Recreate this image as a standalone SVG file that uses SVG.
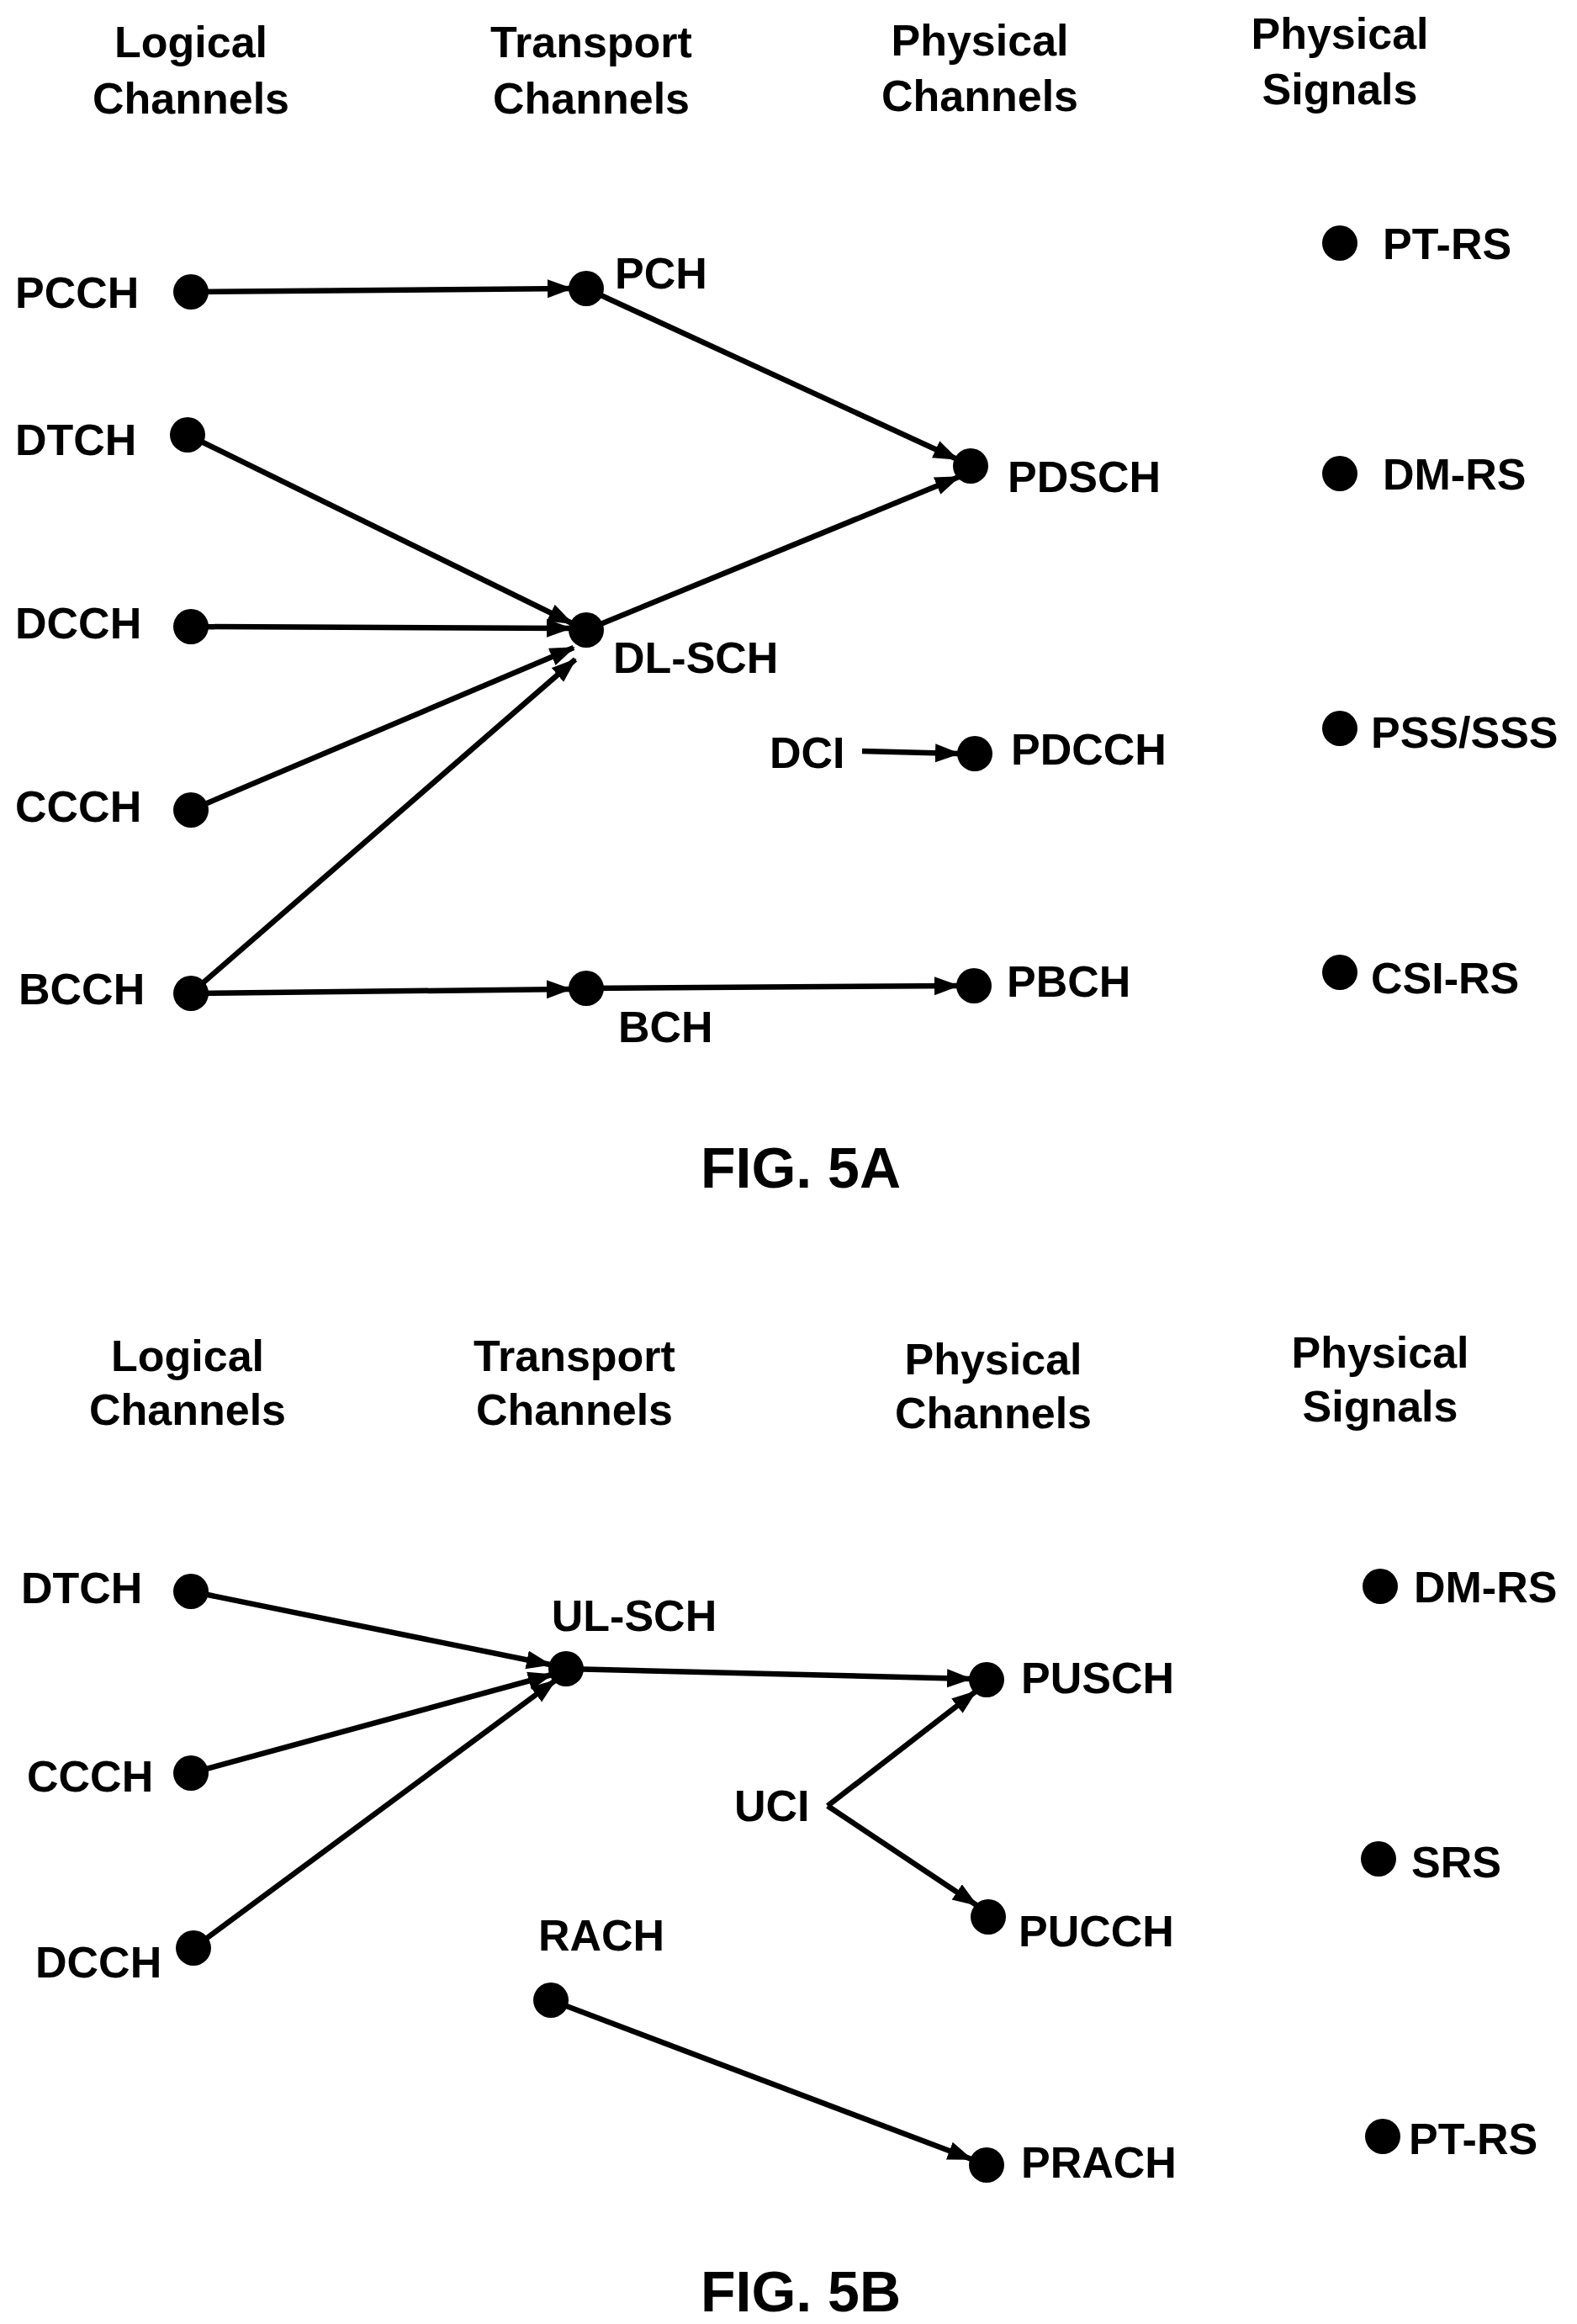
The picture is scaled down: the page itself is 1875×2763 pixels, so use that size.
<svg xmlns="http://www.w3.org/2000/svg" width="1875" height="2763" viewBox="0 0 1875 2763">
<style>
text{font-family:"Liberation Sans",Arial,sans-serif;font-weight:bold;font-size:52px;fill:#000}
.h{text-anchor:middle}
.fig{font-size:68px;text-anchor:middle}
.dot{fill:#000}
.c line{stroke:#000;stroke-width:6.5;marker-end:url(#ah)}
</style>
<defs>
<marker id="ah" markerUnits="userSpaceOnUse" markerWidth="32" markerHeight="24" refX="28" refY="11" orient="auto">
<path d="M0,0 L30,11 L0,22 Z" fill="#000"/>
</marker>
</defs>
<rect width="1875" height="2763" fill="#fff"/>
<g id="headers-5a">
<text class="h" x="227" y="68">Logical</text><text class="h" x="227" y="135">Channels</text>
<text class="h" x="703" y="68">Transport</text><text class="h" x="703" y="135">Channels</text>
<text class="h" x="1165" y="66">Physical</text><text class="h" x="1165" y="132">Channels</text>
<text class="h" x="1593" y="58">Physical</text><text class="h" x="1593" y="124">Signals</text>
</g>
<g class="c" id="connectors-5a">
<line x1="227" y1="347" x2="679" y2="343"/>
<line x1="697" y1="343" x2="1138" y2="546"/>
<line x1="223" y1="517" x2="680" y2="741"/>
<line x1="227" y1="745" x2="678" y2="747"/>
<line x1="227" y1="963" x2="682" y2="770"/>
<line x1="227" y1="1181" x2="684" y2="784"/>
<line x1="697" y1="749" x2="1140" y2="567"/>
<line x1="227" y1="1181" x2="678" y2="1176"/>
<line x1="697" y1="1175" x2="1139" y2="1172"/>
<line x1="1025" y1="893" x2="1140" y2="896"/>
</g>
<g id="PCCH"><circle class="dot" cx="227" cy="347" r="21"/><text x="18" y="366">PCCH</text></g>
<g id="PCH"><circle class="dot" cx="697" cy="343" r="21"/><text x="731" y="343">PCH</text></g>
<g id="DTCH"><circle class="dot" cx="223" cy="517" r="21"/><text x="18" y="541">DTCH</text></g>
<g id="DCCH"><circle class="dot" cx="227" cy="745" r="21"/><text x="18" y="759">DCCH</text></g>
<g id="DL-SCH"><circle class="dot" cx="697" cy="749" r="21"/><text x="729" y="800">DL-SCH</text></g>
<g id="CCCH"><circle class="dot" cx="227" cy="963" r="21"/><text x="18" y="977">CCCH</text></g>
<g id="BCCH"><circle class="dot" cx="227" cy="1181" r="21"/><text x="22" y="1194">BCCH</text></g>
<g id="BCH"><circle class="dot" cx="697" cy="1175" r="21"/><text x="735" y="1239">BCH</text></g>
<g id="PDSCH"><circle class="dot" cx="1154" cy="554" r="21"/><text x="1198" y="585">PDSCH</text></g>
<g id="DCI"><text x="915" y="913">DCI</text></g>
<g id="PDCCH"><circle class="dot" cx="1159" cy="896" r="21"/><text x="1202" y="909">PDCCH</text></g>
<g id="PBCH"><circle class="dot" cx="1158" cy="1172" r="21"/><text x="1197" y="1185">PBCH</text></g>
<g id="PT-RS-a"><circle class="dot" cx="1593" cy="289" r="21"/><text x="1644" y="308">PT-RS</text></g>
<g id="DM-RS-a"><circle class="dot" cx="1593" cy="563" r="21"/><text x="1644" y="582">DM-RS</text></g>
<g id="PSS-SSS"><circle class="dot" cx="1593" cy="866" r="21"/><text x="1630" y="889">PSS/SSS</text></g>
<g id="CSI-RS"><circle class="dot" cx="1593" cy="1156" r="21"/><text x="1630" y="1181">CSI-RS</text></g>
<text class="fig" x="952" y="1412">FIG. 5A</text>

<g id="headers-5b">
<text class="h" x="223" y="1630">Logical</text><text class="h" x="223" y="1694">Channels</text>
<text class="h" x="683" y="1630">Transport</text><text class="h" x="683" y="1694">Channels</text>
<text class="h" x="1181" y="1634">Physical</text><text class="h" x="1181" y="1698">Channels</text>
<text class="h" x="1641" y="1626">Physical</text><text class="h" x="1641" y="1690">Signals</text>
</g>
<g class="c" id="connectors-5b">
<line x1="227" y1="1892" x2="654" y2="1979"/>
<line x1="227" y1="2108" x2="656" y2="1991"/>
<line x1="230" y1="2316" x2="660" y2="1998"/>
<line x1="673" y1="1984" x2="1154" y2="1996"/>
<line x1="984" y1="2147" x2="1160" y2="2011"/>
<line x1="984" y1="2147" x2="1161" y2="2265"/>
<line x1="655" y1="2378" x2="1155" y2="2567"/>
</g>
<g id="DTCH-b"><circle class="dot" cx="227" cy="1892" r="21"/><text x="25" y="1906">DTCH</text></g>
<g id="UL-SCH"><circle class="dot" cx="673" cy="1984" r="21"/><text class="h" x="754" y="1939">UL-SCH</text></g>
<g id="CCCH-b"><circle class="dot" cx="227" cy="2108" r="21"/><text x="32" y="2130">CCCH</text></g>
<g id="DCCH-b"><circle class="dot" cx="230" cy="2316" r="21"/><text x="42" y="2351">DCCH</text></g>
<g id="PUSCH"><circle class="dot" cx="1173" cy="1997" r="21"/><text x="1214" y="2013">PUSCH</text></g>
<g id="UCI"><text x="873" y="2165">UCI</text></g>
<g id="PUCCH"><circle class="dot" cx="1175" cy="2279" r="21"/><text x="1211" y="2314">PUCCH</text></g>
<g id="RACH"><circle class="dot" cx="655" cy="2378" r="21"/><text class="h" x="715" y="2319">RACH</text></g>
<g id="PRACH"><circle class="dot" cx="1173" cy="2574" r="21"/><text x="1214" y="2589">PRACH</text></g>
<g id="DM-RS-b"><circle class="dot" cx="1641" cy="1886" r="21"/><text x="1681" y="1905">DM-RS</text></g>
<g id="SRS"><circle class="dot" cx="1639" cy="2210" r="21"/><text x="1678" y="2232">SRS</text></g>
<g id="PT-RS-b"><circle class="dot" cx="1644" cy="2540" r="21"/><text x="1675" y="2561">PT-RS</text></g>
<text class="fig" x="952" y="2748">FIG. 5B</text>
</svg>
